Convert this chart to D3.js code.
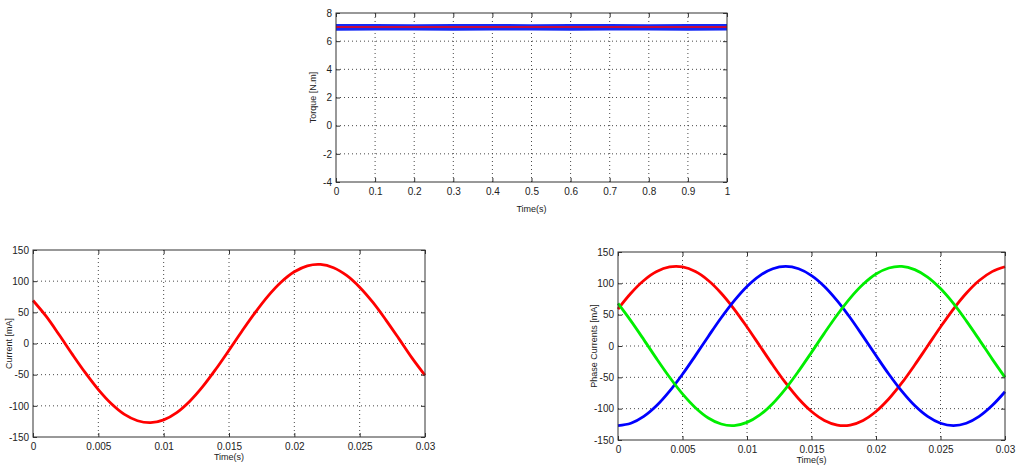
<!DOCTYPE html>
<html>
<head>
<meta charset="utf-8">
<script src="https://cdn.jsdelivr.net/npm/d3@7"></script>
<style>
  body { margin: 0; background: #fff; }
  svg { display: block; font-family: "Liberation Sans", Arial, sans-serif; }
  .tick text { fill: #222; font-size: 10px; }
  .lbl { fill: #222; font-size: 9px; }
</style>
</head>
<body>
<svg id="chart" width="1019" height="470"></svg>
<script>
// ---- data ----
// torque plot: time (s), upper / lower edge of the ripple band and the mean
const torqueTime  = [0, 0.1, 0.2, 0.3, 0.4, 0.5, 0.6, 0.7, 0.8, 0.9, 1];
const torqueUpper = [7.22, 7.22, 7.21, 7.22, 7.22, 7.21, 7.22, 7.22, 7.21, 7.22, 7.22];
const torqueLower = [6.74, 6.76, 6.75, 6.74, 6.76, 6.75, 6.74, 6.75, 6.76, 6.74, 6.75];
const torqueMean  = [7.0, 7.0, 7.0, 7.0, 7.0, 7.0, 7.0, 7.0, 7.0, 7.0, 7.0];

// current plots: time in ms steps of 1 from 0 to 30
const curTime = d3.range(0, 31).map(i => i / 1000);
const currentA = [69, 43.8, 14, -17, -46.8, -73.9, -96.6, -113.7, -123.9, -127, -122.5,
  -110.8, -92.5, -68.8, -40.9, -10.8, 20.1, 49.6, 76.4, 98.6, 115,
  124.6, 126.8, 121.6, 109.2, 90.3, 66.2, 38, 7.8, -23.1, -51];
const phaseRed = [59, 84.2, 104.5, 118.7, 126.1, 126.1, 118.7, 104.5, 84.2, 59, 30.3,
  0, -30.3, -59, -84.2, -104.5, -118.7, -126.1, -126.1, -118.7, -104.5,
  -84.2, -59, -30.3, 0, 30.3, 59, 84.2, 104.5, 118.7, 126.5];
const phaseBlue = [-127, -123.3, -112.4, -95.1, -72.1, -45.1, -15.3, 15.3, 45.1, 72.1, 95.1,
  112.4, 123.3, 127, 123.3, 112.4, 95.1, 72.1, 45.1, 15.3, -15.3,
  -45.1, -72.1, -95.1, -112.4, -123.3, -127, -123.3, -112.4, -95.1, -73];
const phaseGreen = [67.9, 40.1, 10.2, -20.5, -49.8, -76.4, -98.4, -114.8, -124.5, -126.9, -121.9,
  -110, -91.6, -67.9, -40.1, -10.2, 20.5, 49.8, 76.4, 98.4, 114.8,
  124.5, 126.9, 121.9, 110, 91.6, 67.9, 40.1, 10.2, -20.5, -50];

const torqueYTicks = [-4, -2, 0, 2, 4, 6, 8];
const torqueXTicks = [0, 0.1, 0.2, 0.3, 0.4, 0.5, 0.6, 0.7, 0.8, 0.9, 1];
const curYTicks = [-150, -100, -50, 0, 50, 100, 150];
const curXTicks = [0, 0.005, 0.01, 0.015, 0.02, 0.025, 0.03];

const svg = d3.select('#chart');

// draws one MATLAB-like axes box with grid, returns scales and the group
function makeAxes(box, xDom, yDom, xTicks, yTicks, yLabel) {
  const w = box.w, h = box.h;
  const g = svg.append('g').attr('transform', `translate(${box.x},${box.y})`);
  const x = d3.scaleLinear().domain(xDom).range([0, w]);
  const y = d3.scaleLinear().domain(yDom).range([h, 0]);

  g.append('rect').attr('width', w).attr('height', h).attr('fill', '#fff');

  // dotted grid
  const grid = g.append('g').attr('stroke', '#333').attr('stroke-dasharray', '1,3').attr('stroke-width', 0.9);
  grid.selectAll('.gx').data(xTicks.slice(1, -1)).join('line')
    .attr('x1', d => x(d)).attr('x2', d => x(d)).attr('y1', 0).attr('y2', h);
  grid.selectAll('.gy').data(yTicks.slice(1, -1)).join('line')
    .attr('y1', d => y(d)).attr('y2', d => y(d)).attr('x1', 0).attr('x2', w);

  const plot = g.append('g');

  // axes, ticks inside
  const fmt = d => String(d);
  g.append('g').attr('transform', `translate(0,${h})`)
    .call(d3.axisBottom(x).tickValues(xTicks).tickFormat(fmt).tickSizeInner(-4).tickSizeOuter(0).tickPadding(6))
    .call(a => a.select('.domain').remove());
  g.append('g')
    .call(d3.axisLeft(y).tickValues(yTicks).tickFormat(fmt).tickSizeInner(-4).tickSizeOuter(0).tickPadding(4))
    .call(a => a.select('.domain').remove());
  g.append('g')
    .call(d3.axisTop(x).tickValues(xTicks).tickFormat('').tickSizeInner(-4).tickSizeOuter(0))
    .call(a => a.select('.domain').remove());
  g.append('g').attr('transform', `translate(${w},0)`)
    .call(d3.axisRight(y).tickValues(yTicks).tickFormat('').tickSizeInner(-4).tickSizeOuter(0))
    .call(a => a.select('.domain').remove());
  g.selectAll('.tick line').attr('stroke', '#333');

  g.append('rect').attr('width', w).attr('height', h)
    .attr('fill', 'none').attr('stroke', '#333').attr('stroke-width', 1);

  g.append('text').attr('class', 'lbl')
    .attr('x', w / 2).attr('y', h + box.xlab)
    .attr('text-anchor', 'middle').text('Time(s)');
  g.append('text').attr('class', 'lbl')
    .attr('transform', `translate(${box.ylab},${h / 2}) rotate(-90)`)
    .attr('text-anchor', 'middle').text(yLabel);

  return { x, y, plot };
}

// ---- torque ----
const t = makeAxes({ x: 336, y: 13, w: 391, h: 169, xlab: 30, ylab: -20 },
  [0, 1], [-4, 8], torqueXTicks, torqueYTicks, 'Torque [N.m]');
const band = torqueTime.map((d, i) => ({ t: d, hi: torqueUpper[i], lo: torqueLower[i], m: torqueMean[i] }));
t.plot.append('path').datum(band)
  .attr('fill', '#1428f5')
  .attr('d', d3.area().x(d => t.x(d.t)).y0(d => t.y(d.lo)).y1(d => t.y(d.hi)));
t.plot.append('path').datum(band)
  .attr('fill', 'none').attr('stroke', '#ff0000').attr('stroke-width', 1.5)
  .attr('d', d3.line().x(d => t.x(d.t)).y(d => t.y(d.m)));

// ---- single current ----
const c = makeAxes({ x: 33, y: 250, w: 392, h: 187, xlab: 23, ylab: -21 },
  [0, 0.03], [-150, 150], curXTicks, curYTicks, 'Current [mA]');
const line = (ax) => d3.line().curve(d3.curveCatmullRom).x((d, i) => ax.x(curTime[i])).y(d => ax.y(d));
c.plot.append('path').datum(currentA)
  .attr('fill', 'none').attr('stroke', '#ff0000').attr('stroke-width', 2.8).attr('d', line(c));

// ---- three phase currents ----
const p = makeAxes({ x: 618, y: 252, w: 387, h: 188, xlab: 23, ylab: -21 },
  [0, 0.03], [-150, 150], curXTicks, curYTicks, 'Phase Currents [mA]');
[[phaseRed, '#ff0000'], [phaseBlue, '#0000ff'], [phaseGreen, '#00ee00']].forEach(([s, col]) => {
  p.plot.append('path').datum(s)
    .attr('fill', 'none').attr('stroke', col).attr('stroke-width', 2.8).attr('d', line(p));
});
</script>
</body>
</html>
